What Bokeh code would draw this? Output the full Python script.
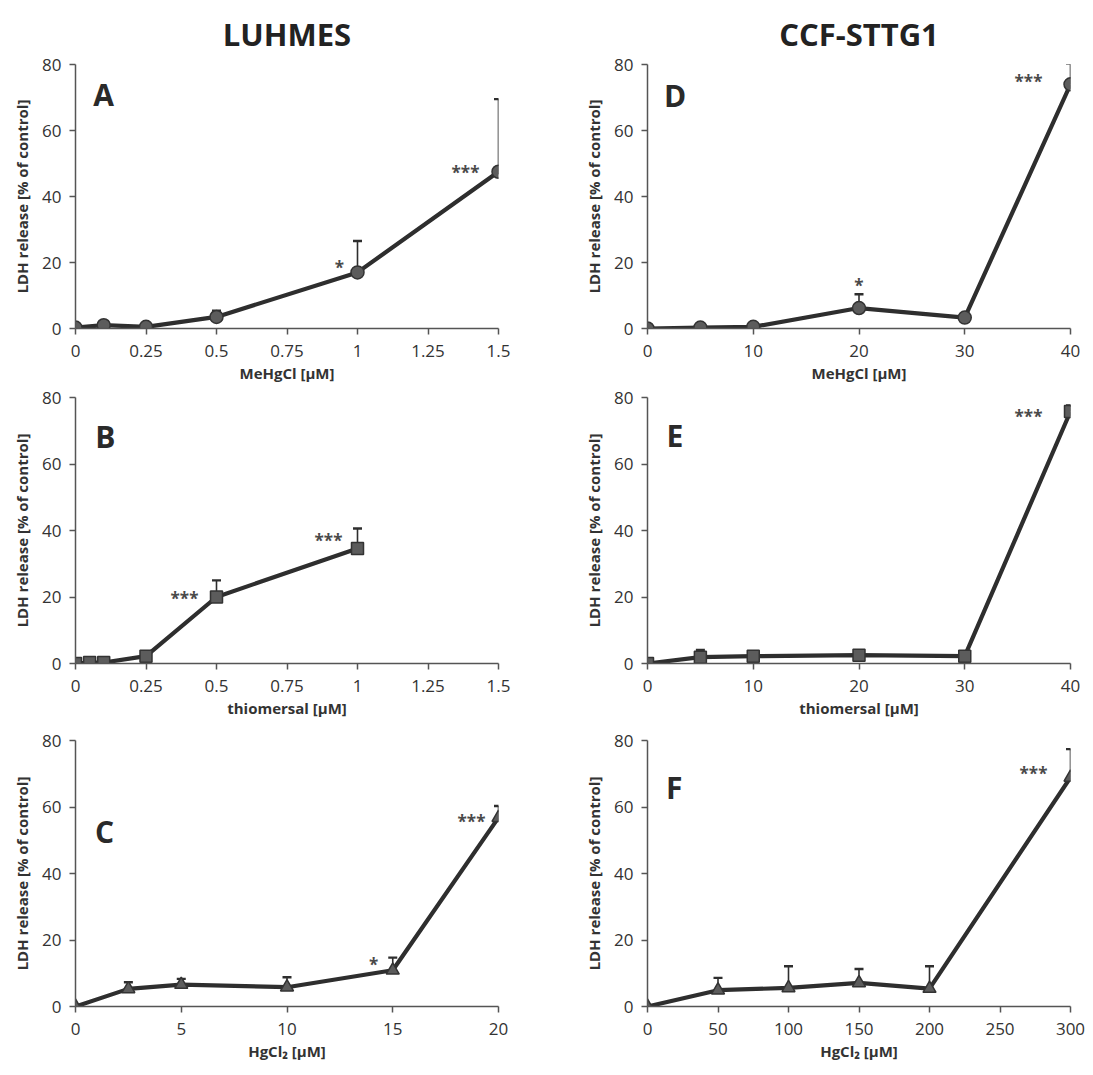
from bokeh.plotting import figure
from bokeh.models import (ColumnDataSource, Whisker, TeeHead, Label, FixedTicker,
                          Range1d, NumeralTickFormatter)
from bokeh.layouts import gridplot
from bokeh.embed import file_html
from bokeh.resources import INLINE
from bokeh.core.properties import value

FONT = "Open Sans"

# ---------------- data ----------------
# Panel A: LUHMES, MeHgCl
a_x = [0, 0.1, 0.25, 0.5, 1.0, 1.5]
a_y = [0.3, 1.0, 0.5, 3.5, 17.0, 47.5]
a_err = [0, 0, 0, 1.9, 9.5, 22.0]
a_sig = ["", "", "", "", "*", "***"]

# Panel B: LUHMES, thiomersal
b_x = [0, 0.05, 0.1, 0.25, 0.5, 1.0]
b_y = [0.0, 0.3, 0.3, 2.2, 20.0, 34.6]
b_err = [0, 0, 0, 0.5, 5.0, 6.0]
b_sig = ["", "", "", "", "***", "***"]

# Panel C: LUHMES, HgCl2
c_x = [0, 2.5, 5, 10, 15, 20]
c_y = [0.0, 5.3, 6.6, 5.8, 10.9, 56.8]
c_err = [0, 2.0, 1.7, 3.0, 3.8, 3.5]
c_sig = ["", "", "", "", "*", "***"]

# Panel D: CCF-STTG1, MeHgCl
d_x = [0, 5, 10, 20, 30, 40]
d_y = [0.0, 0.3, 0.5, 6.2, 3.3, 74.0]
d_err = [0, 0, 0, 4.2, 0, 6.2]
d_sig = ["", "", "", "*", "", "***"]

# Panel E: CCF-STTG1, thiomersal
e_x = [0, 5, 10, 20, 30, 40]
e_y = [0.0, 1.9, 2.2, 2.5, 2.2, 75.8]
e_err = [0, 2.2, 1.2, 1.2, 0, 1.8]
e_sig = ["", "", "", "", "", "***"]

# Panel F: CCF-STTG1, HgCl2
f_x = [0, 50, 100, 150, 200, 300]
f_y = [0.0, 4.9, 5.6, 7.1, 5.4, 68.9]
f_err = [0, 3.7, 6.5, 4.2, 6.7, 8.5]
f_sig = ["", "", "", "", "", "***"]

x_ticks_luhmes_mehg = [0, 0.25, 0.5, 0.75, 1, 1.25, 1.5]
x_ticks_luhmes_hg = [0, 5, 10, 15, 20]
x_ticks_ccf = [0, 10, 20, 30, 40]
x_ticks_ccf_hg = [0, 50, 100, 150, 200, 250, 300]
y_ticks = [0, 20, 40, 60, 80]

y_label = "LDH release [% of control]"
col_titles = ["LUHMES", "CCF-STTG1"]

# ---------------- styling / layout ----------------
LINE_C = "#2e2e2e"
MARK_FILL = "#5c5c5c"
AXIS_C = "#555555"
TEXT_C = "#333333"

FRAME_W = 423
# (top border, frame height, bottom border) per row
ROWS = [(64, 265, 56), (12, 266, 62), (15, 266, 63)]
LEFT_BORDERS = (75, 72)    # left column: left / right
RIGHT_BORDERS = (77, 16)   # right column: left / right


def make_panel(col, row, xs, ys, errs, sigs, xmax, xticks, xlabel, marker, msize,
               letter, letter_pos, star_offsets, title=None):
    top, fh, bottom = ROWS[row]
    lb, rb = LEFT_BORDERS if col == 0 else RIGHT_BORDERS
    p = figure(width=lb + FRAME_W + rb, height=top + fh + bottom,
               x_range=Range1d(0, xmax), y_range=Range1d(0, 80),
               output_backend="svg", toolbar_location=None, title=title,
               min_border_left=lb, min_border_right=rb,
               min_border_top=top, min_border_bottom=bottom)
    p.outline_line_color = None
    p.xgrid.visible = False
    p.ygrid.visible = False
    p.background_fill_color = "white"
    p.border_fill_color = "white"

    if title is not None:
        p.title.text_font = FONT
        p.title.text_font_size = "31px"
        p.title.text_font_style = "bold"
        p.title.text_color = "#222222"
        p.title.align = "center"
        p.title.standoff = 20

    for ax in (p.xaxis[0], p.yaxis[0]):
        ax.axis_line_color = AXIS_C
        ax.axis_line_width = 1.5
        ax.major_tick_line_color = AXIS_C
        ax.major_tick_line_width = 1.5
        ax.major_tick_out = 6
        ax.major_tick_in = 0
        ax.minor_tick_line_color = None
        ax.major_label_text_font = FONT
        ax.major_label_text_font_size = "17px"
        ax.major_label_text_color = TEXT_C
        ax.axis_label_text_font = FONT
        ax.axis_label_text_font_size = "15px"
        ax.axis_label_text_font_style = "bold"
        ax.axis_label_text_color = TEXT_C
        ax.formatter = NumeralTickFormatter(format="0.[00]")

    p.xaxis.ticker = FixedTicker(ticks=xticks)
    p.yaxis.ticker = FixedTicker(ticks=y_ticks)
    p.xaxis.axis_label = xlabel
    p.yaxis.axis_label = y_label
    p.xaxis.major_label_standoff = 10
    p.xaxis.axis_label_standoff = 3
    p.yaxis.major_label_standoff = 8
    p.yaxis.axis_label_standoff = 7

    # error bars (upper only)
    ex = [x for x, e in zip(xs, errs) if e > 0]
    ey = [y for y, e in zip(ys, errs) if e > 0]
    et = [y + e for y, e in zip(ys, errs) if e > 0]
    esrc = ColumnDataSource(dict(base=ex, lower=ey, upper=et))
    w = Whisker(base="base", lower="lower", upper="upper", source=esrc,
                dimension="height", line_color=LINE_C, line_width=1.6,
                upper_head=TeeHead(size=9, line_color=LINE_C, line_width=2.4),
                lower_head=None, level="underlay")
    p.add_layout(w)

    p.line(xs, ys, line_width=4.2, line_color=LINE_C)
    p.scatter(xs, ys, marker=marker, size=msize, fill_color=MARK_FILL,
              line_color="#333333", line_width=1.5)

    # significance stars
    sx, sy, st, dx, dy = [], [], [], [], []
    for i, s in enumerate(sigs):
        if s:
            sx.append(xs[i]); sy.append(ys[i]); st.append(s)
            ox, oy = star_offsets[i]
            dx.append(ox); dy.append(oy + 5)
    ssrc = ColumnDataSource(dict(x=sx, y=sy, t=st, dx=dx, dy=dy))
    p.text(x="x", y="y", text="t", x_offset="dx", y_offset="dy", source=ssrc,
           text_font=value(FONT), text_font_size="17px", text_color="#4a4a4a",
           text_font_style="bold",
           text_align="center", text_baseline="middle")

    p.add_layout(Label(x=letter_pos[0], y=letter_pos[1], text=letter,
                       text_font=FONT, text_font_size="30px",
                       text_font_style="bold", text_color="#2a2a2a",
                       text_align="center", text_baseline="middle"))
    return p


pA = make_panel(0, 0, a_x, a_y, a_err, a_sig, 1.5, x_ticks_luhmes_mehg,
                "MeHgCl [µM]", "circle", 13, "A", (0.1, 71),
                {4: (-18, -10), 5: (-33, -4)}, title=col_titles[0])
pB = make_panel(0, 1, b_x, b_y, b_err, b_sig, 1.5, x_ticks_luhmes_mehg,
                "thiomersal [µM]", "square", 12, "B", (0.106, 68.3),
                {4: (-32, -4), 5: (-29, -13)})
pC = make_panel(0, 2, c_x, c_y, c_err, c_sig, 20, x_ticks_luhmes_hg,
                "HgCl₂ [µM]", "triangle", 13, "C", (1.37, 52.6),
                {4: (-19, -11), 5: (-27, -1)})
pD = make_panel(1, 0, d_x, d_y, d_err, d_sig, 40, x_ticks_ccf,
                "MeHgCl [µM]", "circle", 13, "D", (2.6, 70.6),
                {3: (0, -28), 5: (-42, -8)}, title=col_titles[1])
pE = make_panel(1, 1, e_x, e_y, e_err, e_sig, 40, x_ticks_ccf,
                "thiomersal [µM]", "square", 12, "E", (2.6, 68.6),
                {5: (-42, 0)})
pF = make_panel(1, 2, f_x, f_y, f_err, f_sig, 300, x_ticks_ccf_hg,
                "HgCl₂ [µM]", "triangle", 13, "F", (19, 65.9),
                {5: (-37, -9)})

grid = gridplot([[pA, pD], [pB, pE], [pC, pF]], toolbar_location=None)

open("out.html", "w").write(file_html(grid, INLINE))
